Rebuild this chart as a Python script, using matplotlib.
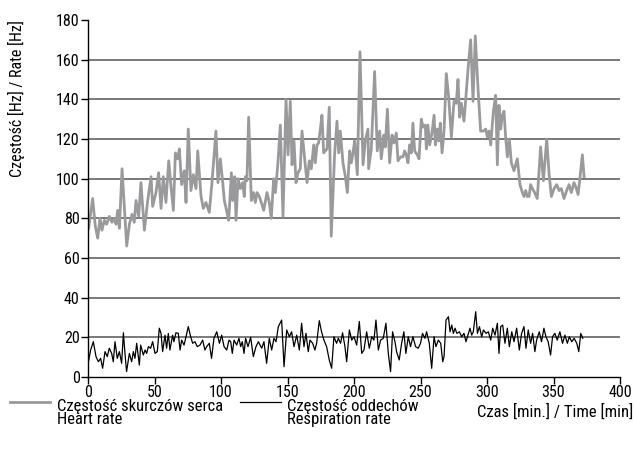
import matplotlib
matplotlib.use('Agg')
import matplotlib.pyplot as plt
from matplotlib.lines import Line2D
from matplotlib import font_manager

# pick a narrow font if one is installed
names = set(f.name for f in font_manager.fontManager.ttflist)
fam = [n for n in ['Liberation Sans Narrow', 'DejaVu Sans Condensed', 'Roboto Condensed'] if n in names]
plt.rcParams['font.family'] = fam + ['DejaVu Sans']

# heart rate (time [min], rate)
hr_t = [0.5, 3.5, 5.5, 7.3, 9.0, 10.5, 12.3, 14.0, 16.0, 18.0, 19.8, 21.1, 22.3, 23.6, 25.6,
        29.1, 31.1, 33.1, 34.8, 36.1, 38.1, 39.8, 42.4, 44.9, 47.4, 48.6, 51.1, 53.1, 54.9,
        56.6, 58.6, 60.7, 62.4, 64.2, 65.7, 67.4, 68.7, 70.4, 72.4, 73.7, 75.4, 77.4, 79.2,
        81.2, 82.5, 85.0, 86.7, 88.7, 91.2, 93.2,
        96.2, 97.7, 99.5, 101.3, 102.5, 105.8, 107.8, 108.8, 110.3, 111.3, 112.8, 114.5,
        116.3, 117.5, 118.3, 119.5, 120.8, 122.8, 124.5, 125.8, 127.1, 128.8, 130.8, 132.1,
        134.6, 136.3, 137.8, 139.6, 140.9, 142.8, 144.6, 146.6, 148.9, 150.4, 152.1, 153.4,
        154.9, 156.4, 157.9, 159.6, 160.9, 162.9, 164.7, 166.4, 167.9, 169.7, 170.9, 172.2,
        173.4, 174.7, 175.9, 177.2, 179.7, 181.4, 182.9, 185.4, 187.2, 188.5, 189.7,
        191.7, 193.5, 195.0, 196.7, 198.0, 199.2, 200.5, 202.5, 204.5, 206.8, 208.5, 210.5,
        211.0, 213.0, 215.5, 217.5, 219.3, 220.5, 222.5, 223.5, 225.1, 226.8, 228.6, 230.1,
        231.8, 233.1, 235.1, 236.8, 238.1, 239.3, 240.6, 241.8, 243.1, 244.3, 245.6, 247.6,
        248.9, 250.6, 251.9, 253.6, 254.4, 255.6, 256.9, 258.6, 260.2, 261.2, 262.7, 263.7,
        264.9, 266.2, 267.7, 269.4, 271.2, 273.2, 275.2, 276.9, 278.2, 279.4, 280.7, 282.7,
        283.9,
        285.7, 287.7, 289.5, 291.2, 293.2, 295.2, 297.2, 299.0, 300.3, 301.5, 302.8, 304.8,
        306.5, 307.8, 309.0, 310.3, 311.5, 312.8, 314.0, 315.3, 316.8, 318.3, 320.3, 322.8,
        324.8, 326.6, 327.8, 329.1, 330.3, 331.6, 332.8, 334.1, 335.8, 337.8, 340.3, 342.4,
        344.9, 346.6, 348.4, 350.4, 352.4, 354.2, 355.9, 357.9, 359.9, 361.7, 363.4, 365.4,
        366.7, 368.5, 370.0, 371.7, 373.0]
hr_v = [75, 90, 76, 70, 80, 74, 79, 77, 81, 78, 80, 77, 84, 75, 105,
        66, 77, 82, 78, 89, 81, 98, 74, 89, 101, 86, 93, 103, 85,
        101, 88, 109, 96, 84, 113, 110, 115, 97, 104, 88, 125, 94, 102,
        95, 114, 91, 85, 88, 83, 98,
        124, 98, 110, 98, 89, 79, 103, 89, 101, 79, 100, 95,
        98, 91, 101, 99, 131, 89, 93, 88, 93, 91, 87, 84,
        93, 88, 80, 100, 93, 108, 127, 81, 140, 112, 139, 107,
        119, 98, 103, 105, 124, 110, 98, 109, 105, 117, 108, 117,
        118, 125, 132, 113, 115, 136, 71, 112, 129, 113, 124,
        108, 101, 93, 114, 108, 113, 119, 102, 164, 107, 119, 125,
        105, 115, 154, 114, 124, 110, 122, 116, 135, 108, 122, 118,
        123, 109, 111, 111, 114, 112, 108, 117, 113, 128, 114, 112,
        110, 130, 126, 127, 115, 127, 117, 123, 132, 117, 125, 119,
        128, 113, 124, 153, 141, 121, 139, 138, 150, 131, 138, 129,
        139,
        155, 170, 139, 172, 146, 124, 124, 125, 121, 124, 117, 134,
        142, 107, 137, 125, 132, 134, 121, 111, 120, 108, 104, 110,
        97, 93, 91, 94, 91, 91, 97, 95, 93, 90, 116, 99,
        120, 103, 91, 95, 97, 94, 95, 90, 94, 97, 93, 98,
        96, 92, 101, 112, 101]

# respiration rate (time [min], rate)
rr_t = [0.3, 2.0, 4.0, 6.0, 7.8, 9.5, 11.0, 12.8, 14.5, 16.0, 17.8, 19.0, 20.3, 22.0, 23.6,
        25.3, 26.6, 27.8, 29.0, 31.1, 32.8, 34.1, 35.3, 36.6, 38.6, 39.6, 41.6, 42.9, 44.1,
        45.4, 47.1, 48.6, 50.4, 52.1, 53.6, 54.9, 56.1, 57.9, 59.1, 60.4, 61.6, 63.6, 64.6,
        66.1, 67.9, 69.2, 70.4, 72.2, 73.7, 75.4, 77.2, 78.7, 80.4, 82.2, 84.2, 86.2, 87.9,
        89.2, 91.2, 92.9, 94.7, 96.8, 98.8, 100.5, 102.3, 104.3, 106.0, 107.3, 108.5, 109.8,
        111.8, 113.5, 114.8, 116.0, 117.3, 118.5, 120.3, 122.3, 124.3, 126.3, 128.1,
        130.6, 132.3, 134.3, 136.3, 138.1, 139.8, 141.4, 143.1, 145.6, 147.4, 149.4, 151.4,
        153.1, 154.9, 156.9, 158.9, 160.6, 162.4, 163.9, 165.6, 166.9, 168.9, 170.6, 171.9,
        173.9, 175.6, 177.4, 179.4, 181.4, 183.2, 184.9, 186.9, 188.2, 189.9, 191.4, 193.2,
        194.5, 196.5, 198.3, 200.0, 202.0, 204.0, 205.8, 207.5, 209.5, 211.5, 213.3, 215.0,
        216.5, 218.3, 220.0, 222.0, 224.0, 225.8, 227.5, 229.0, 230.8, 232.0, 234.0, 235.8,
        237.5, 239.0, 240.8, 242.5, 244.3, 246.3, 248.3, 250.0, 251.5, 253.3, 254.6, 256.6,
        258.4, 260.2, 261.6, 263.4, 265.2, 266.7, 267.7, 269.2, 271.0, 272.2, 273.5, 274.7,
        276.0, 277.3, 279.2, 281.0, 282.7, 284.2, 286.0, 287.2, 288.5, 289.7, 291.5, 292.8,
        294.3, 296.0, 297.3, 299.3, 301.0, 302.8, 304.3, 306.0, 307.8, 309.0, 310.3, 311.8,
        313.5, 315.3, 316.8, 318.6, 320.3, 322.3, 324.3, 326.0, 327.8, 329.3, 331.0, 332.8,
        334.3, 336.0, 337.3, 339.3, 341.0, 342.8, 344.3, 346.0, 347.8, 349.3, 351.0, 352.8,
        354.8, 356.8, 358.6, 360.4, 361.9, 363.7, 365.5, 367.5, 369.0, 370.5, 372.0]
rr_v = [7.7, 13.6, 17.8, 10.3, 7.7, 9.4, 4.4, 12.8, 10.3, 14.5, 11.9, 7.7, 17.8, 9.4, 12.8,
        6.9, 22.3, 11.9, 2.7, 11.9, 7.7, 12.8, 9.4, 17.0, 6.0, 16.1, 11.1, 13.6, 11.9,
        15.3, 14.5, 17.8, 11.9, 12.8, 24.6, 22.0, 12.8, 21.1, 14.5, 22.0, 13.6, 21.1, 17.8,
        22.3, 22.0, 13.6, 18.6, 16.1, 20.3, 25.4, 20.3, 17.0, 17.8, 15.3, 16.1, 18.6, 13.6,
        15.3, 17.0, 9.4, 19.5, 22.8, 17.0, 21.1, 15.3, 13.6, 18.6, 17.8, 11.9, 18.6,
        16.1, 19.5, 15.3, 17.8, 11.9, 19.5, 15.3, 20.0, 10.3, 15.3, 17.8,
        14.5, 17.8, 6.9, 19.5, 13.6, 19.5, 17.8, 25.4, 28.7, 5.2, 23.7, 20.3,
        22.8, 15.3, 21.1, 13.6, 27.1, 15.3, 22.0, 12.8, 18.6, 17.0, 13.6, 17.0,
        28.4, 22.8, 18.6, 15.3, 8.6, 4.4, 20.3, 17.0, 19.5, 17.0, 22.3, 15.3,
        7.7, 23.7, 18.6, 20.3, 16.1, 28.0, 11.9, 13.6, 22.8, 14.5, 20.3, 18.6,
        28.7, 13.6, 18.6, 19.5, 27.1, 11.9, 2.7, 22.8, 17.8, 12.8, 8.6, 17.0,
        22.8, 11.9, 20.3, 15.3, 20.3, 15.3, 14.5, 17.0, 22.0, 19.5, 22.8, 17.0,
        4.4, 20.3, 15.3, 18.6, 17.0, 7.7, 10.3, 28.7, 30.4, 22.8, 26.2, 22.0,
        24.6, 22.0, 22.8, 20.3, 22.0, 17.8, 22.0, 24.6, 21.1, 22.8, 32.9, 22.0,
        25.4, 20.3, 23.7, 22.0, 22.8, 18.6, 24.6, 21.1, 27.1, 11.9, 25.4, 26.2,
        17.0, 24.6, 15.3, 22.8, 17.8, 24.6, 13.6, 22.0, 25.4, 14.5, 23.7, 17.0,
        22.0, 12.8, 18.6, 22.8, 17.8, 24.6, 20.3, 17.8, 11.1, 20.3, 22.0, 18.6,
        22.8, 17.0, 21.1, 17.0, 20.3, 17.8, 19.5, 17.0, 12.8, 22.0, 19.5]

yticks = list(range(0, 181, 20))
xticks = list(range(0, 401, 50))

fig = plt.figure(figsize=(6.35, 4.55), dpi=100)
ax = fig.add_axes([88 / 635, 1 - 377 / 455, 532 / 635, 357 / 455])

for y in yticks[1:-1]:
    ax.axhline(y, color='#555555', lw=1.1, zorder=1)

ax.plot(hr_t, hr_v, color='#9a9a9c', lw=2.0, zorder=2)
ax.plot(rr_t, rr_v, color='black', lw=0.9, zorder=3)

ax.set_xlim(0, 400)
ax.set_ylim(0, 180)
ax.set_xticks(xticks)
ax.set_yticks(yticks)
ax.spines['top'].set_visible(False)
ax.spines['right'].set_visible(False)
ax.spines['left'].set_linewidth(1.0)
ax.spines['bottom'].set_linewidth(1.0)
ax.tick_params(direction='out', length=5, width=1.0, labelsize=11.5, pad=1)

ax.set_ylabel('Częstość [Hz] / Rate [Hz]', fontsize=11.5)
ax.yaxis.set_label_coords(-0.118, 0.78)
fig.text(633 / 635, 1 - 412 / 455, 'Czas [min.] / Time [min]', ha='right', va='center', fontsize=12)

# legend drawn below the axes
fig.add_artist(Line2D([10 / 635, 50 / 635], [1 - 402 / 455] * 2, color='#9a9a9c', lw=2.0))
fig.text(57 / 635, 1 - 413 / 455, 'Częstość skurczów serca\nHeart rate',
         ha='left', va='center', fontsize=12, linespacing=0.82)
fig.add_artist(Line2D([240 / 635, 281 / 635], [1 - 402 / 455] * 2, color='black', lw=0.9))
fig.text(287 / 635, 1 - 413 / 455, 'Częstość oddechów\nRespiration rate',
         ha='left', va='center', fontsize=12, linespacing=0.82)

fig.savefig('out.png', dpi=100)
